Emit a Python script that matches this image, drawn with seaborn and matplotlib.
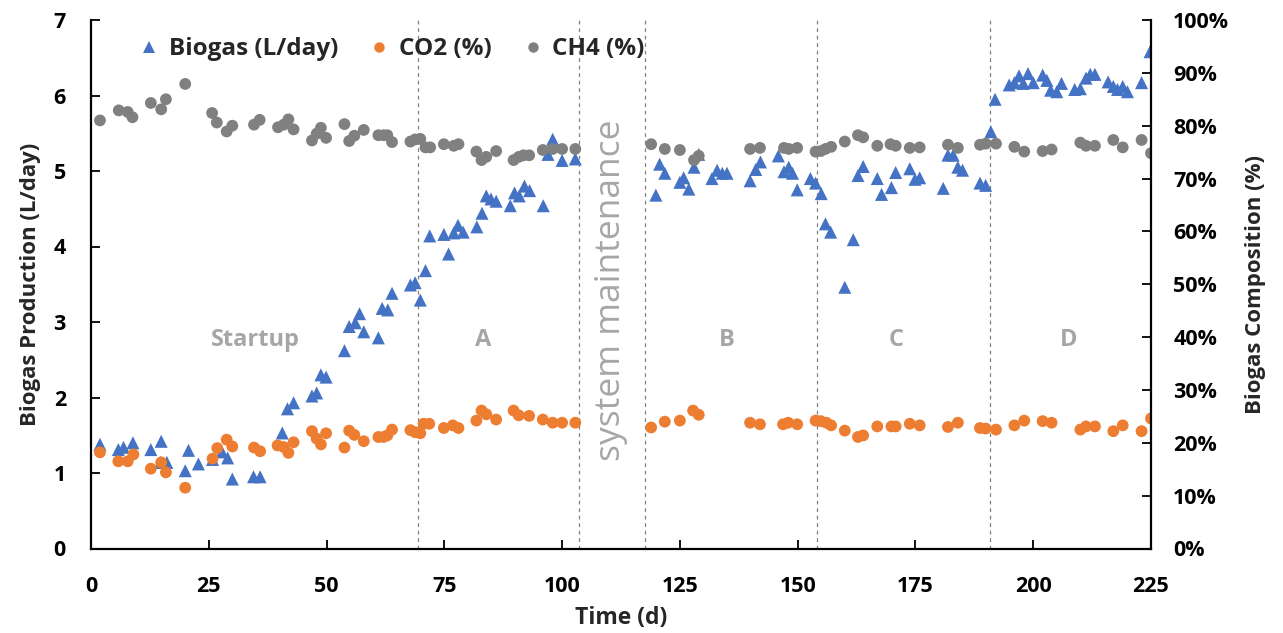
import matplotlib
matplotlib.use("Agg")
import matplotlib.pyplot as plt
import seaborn as sns
import pandas as pd
from matplotlib.lines import Line2D
from matplotlib.ticker import FuncFormatter

# ---------------- data ----------------
bio_day = [1.9, 5.8, 6.9, 8.9, 12.7, 14.7, 14.9, 16.1, 20.0, 20.7, 22.8, 25.8, 27.8, 29.0, 30.0,
           34.5, 35.9, 40.6, 41.7, 43.0, 46.9, 47.9, 48.8, 49.9, 53.8, 54.8, 56.1, 57.0, 57.9,
           61.0, 61.8, 63.0, 63.9, 67.8, 68.8, 69.9, 71.0, 71.9, 74.9, 75.9, 77.0, 77.9, 79.0,
           81.9, 83.0, 83.9, 84.9, 86.0, 89.0, 89.9, 90.9, 92.0, 93.1, 96.0, 97.0, 98.0, 100.0,
           102.8, 119.9, 120.7, 121.8, 125.0, 125.8, 126.9, 128.0, 129.0, 131.8, 132.9, 134.0,
           135.0, 139.9, 141.1, 142.1, 145.9, 147.1, 148.1, 148.9, 149.9, 152.7, 153.8, 155.0,
           155.9, 157.0, 160.0, 161.8, 162.8, 163.9, 166.9, 167.8, 169.9, 170.8, 173.8, 174.9,
           175.9, 180.9, 181.9, 183.0, 184.0, 185.0, 188.7, 189.9, 191.0, 191.9, 194.9, 196.0,
           197.0, 197.9, 198.9, 200.0, 202.0, 202.9, 203.7, 205.0, 206.0, 208.8, 210.0, 211.2,
           212.1, 213.1, 215.9, 217.0, 217.9, 219.0, 220.0, 223.0, 224.8]
bio_val = [1.38, 1.31, 1.34, 1.40, 1.31, 1.14, 1.42, 1.14, 1.03, 1.30, 1.12, 1.18, 1.28, 1.20, 0.92,
           0.95, 0.95, 1.53, 1.85, 1.93, 2.02, 2.06, 2.30, 2.27, 2.62, 2.94, 2.99, 3.11, 2.87,
           2.79, 3.18, 3.16, 3.38, 3.49, 3.52, 3.29, 3.68, 4.14, 4.16, 3.90, 4.18, 4.28, 4.19,
           4.26, 4.44, 4.67, 4.63, 4.60, 4.54, 4.71, 4.67, 4.80, 4.74, 4.54, 5.22, 5.42, 5.14,
           5.16, 4.68, 5.09, 4.97, 4.85, 4.91, 4.76, 5.05, 5.22, 4.90, 5.01, 4.97,
           4.97, 4.87, 5.02, 5.12, 5.20, 4.99, 5.05, 4.97, 4.75, 4.90, 4.84, 4.70,
           4.30, 4.19, 3.46, 4.09, 4.94, 5.06, 4.90, 4.69, 4.78, 4.98, 5.03, 4.89,
           4.91, 4.77, 5.21, 5.21, 5.05, 5.01, 4.84, 4.81, 5.52, 5.95, 6.14, 6.17,
           6.26, 6.16, 6.29, 6.17, 6.27, 6.20, 6.07, 6.05, 6.16, 6.08, 6.09, 6.23,
           6.28, 6.28, 6.18, 6.12, 6.08, 6.12, 6.05, 6.17, 6.58]

co2_day = [1.9, 5.8, 7.8, 9.0, 12.7, 14.9, 15.9, 20.0, 25.8, 26.8, 28.8, 30.0, 34.6, 35.9, 39.6,
           40.9, 41.9, 43.0, 46.9, 47.9, 48.8, 49.9, 53.8, 54.8, 55.9, 57.9, 61.0, 62.1, 62.9,
           63.9, 67.8, 68.8, 69.9, 70.6, 71.8, 74.9, 76.8, 78.0, 81.8, 82.9, 83.9, 86.0, 89.7,
           90.8, 93.0, 95.9, 98.0, 100.0, 102.8, 118.9, 121.8, 125.0, 127.8, 129.0, 139.9, 142.0,
           146.9, 148.0, 149.9, 153.8, 154.9, 156.1, 157.1, 160.0, 162.8, 163.9, 166.9, 169.9,
           170.8, 173.8, 175.9, 181.9, 184.0, 188.7, 189.9, 192.1, 196.0, 198.1, 202.0, 203.9,
           210.0, 211.2, 213.1, 217.0, 219.0, 223.0, 225.0]
co2_pct = [18.2, 16.5, 16.5, 17.8, 15.1, 16.3, 14.4, 11.5, 17.0, 19.0, 20.6, 19.3, 19.1, 18.4, 19.5,
           19.2, 18.1, 20.1, 22.2, 20.8, 19.7, 21.8, 19.1, 22.3, 21.5, 20.3, 21.1, 21.1, 21.4,
           22.5, 22.4, 22.0, 21.8, 23.6, 23.6, 22.8, 23.3, 22.8, 24.2, 26.1, 25.4, 24.4, 26.1,
           25.2, 25.1, 24.4, 23.8, 23.8, 23.8, 22.9, 24.0, 24.2, 26.1, 25.3, 23.8, 23.5,
           23.5, 23.8, 23.5, 24.2, 24.1, 23.8, 23.3, 22.3, 21.1, 21.4, 23.1, 23.1,
           23.1, 23.6, 23.3, 23.0, 23.8, 22.8, 22.7, 22.5, 23.3, 24.2, 24.1, 23.8,
           22.5, 23.1, 23.1, 22.2, 23.3, 22.2, 24.6]

ch4_day = [1.9, 5.9, 7.8, 8.8, 12.7, 14.9, 15.9, 20.0, 25.7, 26.7, 28.8, 30.0, 34.6, 35.8, 39.7,
           40.9, 41.9, 43.0, 46.9, 47.9, 48.8, 49.9, 53.8, 54.8, 55.9, 57.9, 61.0, 62.1, 62.9,
           63.9, 67.8, 68.8, 69.9, 71.0, 72.0, 74.9, 77.0, 78.0, 81.8, 82.9, 83.9, 86.0, 89.7,
           90.8, 91.8, 93.0, 95.9, 98.0, 100.0, 102.8, 118.9, 121.8, 125.0, 128.0, 129.0, 139.9,
           142.0, 147.1, 148.1, 149.9, 153.8, 154.9, 155.9, 157.1, 160.0, 162.8, 163.9, 166.9,
           169.7, 170.8, 173.8, 175.9, 181.9, 184.0, 188.7, 189.9, 192.1, 196.0, 198.1, 202.0,
           203.9, 210.0, 211.2, 213.1, 217.0, 219.0, 223.0, 225.0]
ch4_pct = [81.0, 82.9, 82.6, 81.6, 84.3, 83.1, 85.0, 87.9, 82.4, 80.6, 78.9, 80.0, 80.2, 81.1, 79.7,
           80.2, 81.2, 79.3, 77.2, 78.5, 79.6, 77.7, 80.3, 77.1, 78.1, 79.2, 78.2, 78.2, 78.2,
           76.9, 77.0, 77.4, 77.5, 75.9, 75.9, 76.5, 76.2, 76.5, 75.1, 73.5, 74.1, 75.2, 73.5,
           74.1, 74.4, 74.4, 75.4, 75.6, 75.6, 75.6, 76.5, 75.6, 75.4, 73.5, 74.3, 75.6,
           75.8, 75.8, 75.6, 75.8, 75.1, 75.2, 75.6, 76.0, 77.0, 78.2, 77.8, 76.2,
           76.5, 76.2, 75.8, 75.9, 76.4, 75.8, 76.4, 76.6, 76.6, 76.0, 75.1, 75.2,
           75.5, 76.8, 76.2, 76.2, 77.3, 75.9, 77.3, 74.8]

phase_bounds = [69.5, 103.5, 117.5, 154.2, 190.8]
phase_labels = ["Startup", "A", "B", "C", "D"]
phase_label_x = [35.0, 83.3, 135.0, 170.8, 207.6]
maint_label = "system maintenance"

x_ticks = [0, 25, 50, 75, 100, 125, 150, 175, 200, 225]

BLUE = "#4472C4"
ORANGE = "#ED7D31"
GRAY = "#808080"

# ---------------- style ----------------
sns.set_theme(style="white")
plt.rcParams["font.family"] = ["Open Sans", "DejaVu Sans"]
plt.rcParams["font.weight"] = "bold"

fig = plt.figure(figsize=(12.83, 6.33), dpi=100)
ax = fig.add_axes([91 / 1283, 1 - 548.5 / 633, (1151 - 91) / 1283, (548.5 - 20) / 633])
ax2 = ax.twinx()

bio_df = pd.DataFrame({"day": bio_day, "val": bio_val})
co2_df = pd.DataFrame({"day": co2_day, "pct": [v / 100 for v in co2_pct]})
ch4_df = pd.DataFrame({"day": ch4_day, "pct": [v / 100 for v in ch4_pct]})

sns.scatterplot(data=bio_df, x="day", y="val", ax=ax, marker="^", s=88, color=BLUE,
                edgecolor="none", legend=False)
sns.scatterplot(data=co2_df, x="day", y="pct", ax=ax2, marker="o", s=72, color=ORANGE,
                edgecolor="none", legend=False)
sns.scatterplot(data=ch4_df, x="day", y="pct", ax=ax2, marker="o", s=72, color=GRAY,
                edgecolor="none", legend=False)

ax.set_xlim(0, 225)
ax.set_ylim(0, 7)
ax2.set_ylim(0, 1.0)

for xb in phase_bounds:
    ax.axvline(xb, color="#808080", lw=0.9, ls=(0, (3, 3)), zorder=0)

for lab, xl in zip(phase_labels, phase_label_x):
    ax.text(xl, 2.76, lab, color="#A6A6A6", fontsize=17, fontweight="bold",
            ha="center", va="center")
ax.text(110.3, 3.42, maint_label, color="#A6A6A6", fontsize=25.5, fontweight="normal",
        rotation=90, ha="center", va="center")

ax.set_xticks(x_ticks)
ax.set_yticks(range(0, 8))
ax2.set_yticks([i / 10 for i in range(11)])
ax2.yaxis.set_major_formatter(FuncFormatter(lambda v, p: f"{round(v * 100)}%"))

for a in (ax, ax2):
    for s in a.spines.values():
        s.set_visible(False)
ax.spines["left"].set_visible(True)
ax.spines["bottom"].set_visible(True)
ax2.spines["right"].set_visible(True)
for s in (ax.spines["left"], ax.spines["bottom"], ax2.spines["right"]):
    s.set_color("black")
    s.set_linewidth(1.6)

ax.tick_params(axis="both", direction="in", length=6.5, width=1.3, color="black",
               labelsize=15.5, labelcolor="black", pad=18)
ax.tick_params(axis="x", pad=20)
ax.tick_params(left=True, bottom=True)
ax2.tick_params(axis="y", direction="in", length=6.5, width=1.3, color="black",
                labelsize=15.5, labelcolor="black", pad=16, right=True)
for lbl in ax.get_xticklabels() + ax.get_yticklabels() + ax2.get_yticklabels():
    lbl.set_fontweight("bold")

ax.set_xlabel("Time (d)", fontsize=16.5, fontweight="bold", labelpad=6)
ax.set_ylabel("Biogas Production (L/day)", fontsize=16, fontweight="bold", labelpad=9)
ax2.set_ylabel("Biogas Composition (%)", fontsize=16, fontweight="bold", labelpad=11)
ax.grid(False)
ax2.grid(False)

handles = [
    Line2D([], [], marker="^", ls="none", color=BLUE, markersize=8, markeredgewidth=0),
    Line2D([], [], marker="o", ls="none", color=ORANGE, markersize=7.5, markeredgewidth=0),
    Line2D([], [], marker="o", ls="none", color=GRAY, markersize=7.5, markeredgewidth=0),
]
leg = ax2.legend(handles, ["Biogas (L/day)", "CO2 (%)", "CH4 (%)"], loc="upper left",
                 bbox_to_anchor=(0.025, 1.0), ncol=3, frameon=False,
                 prop={"size": 17.5, "weight": "bold"}, handletextpad=0.2,
                 columnspacing=1.1, handlelength=1.2, borderaxespad=0.3)

fig.savefig("out.png", dpi=100)
